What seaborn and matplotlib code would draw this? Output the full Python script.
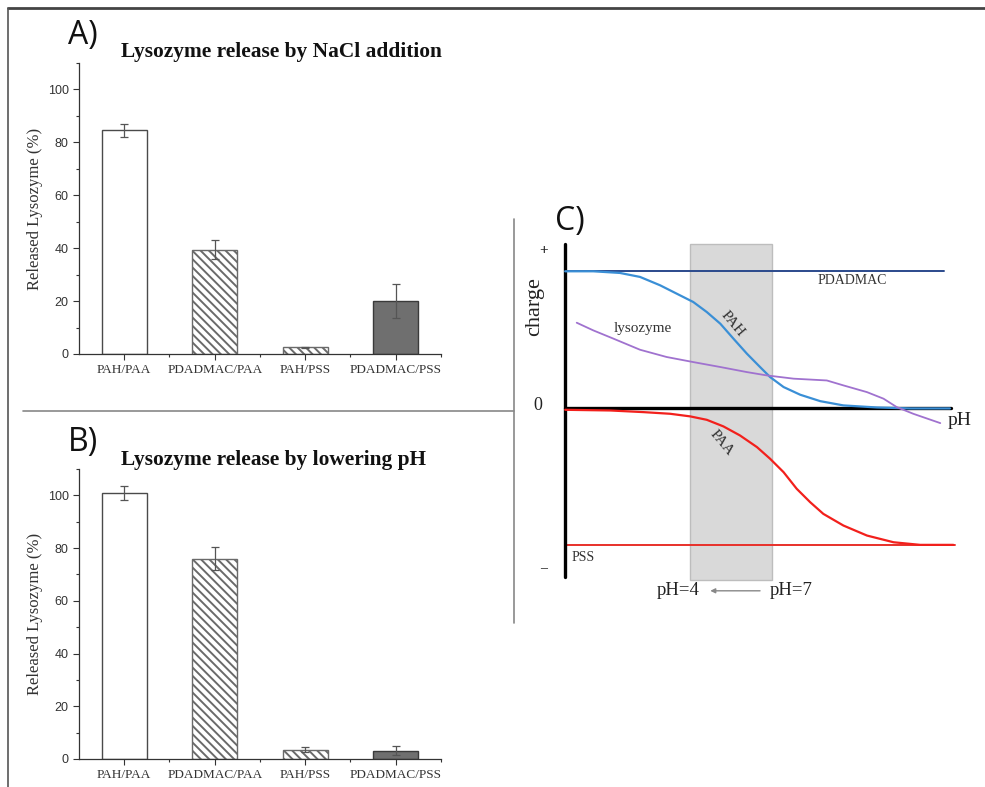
import matplotlib
matplotlib.use("Agg")
import matplotlib.pyplot as plt
from matplotlib.lines import Line2D
from matplotlib.patches import Rectangle
from matplotlib.ticker import MultipleLocator, FixedLocator
import numpy as np
import pandas as pd
import seaborn as sns

# --- data -------------------------------------------------------------
systems = ["PAH/PAA", "PDADMAC/PAA", "PAH/PSS", "PDADMAC/PSS"]

nacl_release = [84.5, 39.4, 2.5, 20.0]
nacl_err = [2.4, 3.5, 0.3, 6.5]

ph_release = [101.0, 76.0, 3.5, 3.2]
ph_err = [2.6, 4.5, 1.0, 1.6]

# schematic charge curves (panel C), x = pH scale (arb.), y = charge (arb.)
pah_x = [0.0, 0.73, 1.42, 1.94, 2.46, 2.89, 3.32, 3.67, 4.02, 4.36, 4.71, 5.05,
         5.31, 5.66, 6.09, 6.61, 7.21, 8.08, 8.94, 9.97]
pah_y = [1.0, 1.0, 0.988, 0.959, 0.898, 0.837, 0.776, 0.703, 0.618, 0.509, 0.399, 0.302,
         0.229, 0.156, 0.10, 0.053, 0.022, 0.007, 0.0, 0.0]

paa_x = [0.0, 1.17, 2.03, 2.72, 3.24, 3.67, 4.10, 4.53, 4.97, 5.31, 5.66, 6.00,
         6.35, 6.69, 7.21, 7.82, 8.51, 9.20, 10.06]
paa_y = [-0.01, -0.015, -0.027, -0.039, -0.058, -0.083, -0.131, -0.197, -0.282, -0.367,
         -0.465, -0.586, -0.684, -0.769, -0.854, -0.927, -0.976, -0.995, -0.995]

lys_x = [0.30, 0.73, 1.25, 1.94, 2.63, 3.32, 4.02, 4.71, 5.22, 5.92, 6.78, 7.21,
         7.82, 8.25, 8.59, 9.02, 9.72]
lys_y = [0.625, 0.569, 0.509, 0.428, 0.375, 0.338, 0.302, 0.265, 0.241, 0.217, 0.204,
         0.168, 0.119, 0.071, 0.01, -0.039, -0.107]

pdadmac_x = [0.0, 9.82]
pdadmac_y = [1.0, 1.0]
pss_x = [0.05, 10.1]
pss_y = [-0.995, -0.995]

shade_ph = [3.24, 5.36]

sns.set_style("white")
plt.rcParams["hatch.linewidth"] = 1.4

SERIF = ["Liberation Serif", "DejaVu Serif"]
SANS = ["Liberation Sans", "DejaVu Sans"]
LETTER = ["Open Sans", "DejaVu Sans"]

fig = plt.figure(figsize=(9.85, 7.87), dpi=100)

face = ["white", "white", "white", "#6f6f6f"]
hatches = [None, "\\\\\\\\", "\\\\\\\\", None]
edges = ["#4a4a4a", "#6a6a6a", "#6a6a6a", "#3a3a3a"]


def bar_panel(rect, values, errs, title, title_xy, letter_xy, letter):
    ax = fig.add_axes(rect)
    df = pd.DataFrame({"System": systems, "Release": values})
    sns.barplot(data=df, x="System", y="Release", order=systems, width=0.5,
                color="white", ax=ax, errorbar=None)
    for p, fc, h, ec in zip(ax.patches, face, hatches, edges):
        p.set_facecolor(fc)
        p.set_edgecolor(ec)
        p.set_linewidth(1.0)
        if h:
            p.set_hatch(h)
    ax.errorbar(range(len(systems)), values, yerr=errs, fmt="none",
                ecolor="#555555", elinewidth=0.9, capsize=3, capthick=0.9)
    ax.set_xlim(-0.5, 3.5)
    ax.set_ylim(0, 110)
    ax.yaxis.set_major_locator(FixedLocator([0, 20, 40, 60, 80, 100]))
    ax.yaxis.set_minor_locator(MultipleLocator(10))
    ax.xaxis.set_minor_locator(FixedLocator([0.5, 1.5, 2.5, 3.5]))
    ax.tick_params(axis="both", which="major", direction="out", length=4,
                   width=0.8, color="#333333")
    ax.tick_params(axis="both", which="minor", direction="out", length=2.5,
                   width=0.8, color="#333333")
    ax.tick_params(axis="x", bottom=True, which="both")
    ax.tick_params(axis="y", left=True, which="both")
    for lab in ax.get_yticklabels():
        lab.set_fontfamily(SANS)
        lab.set_fontsize(9)
        lab.set_color("#333333")
    for lab in ax.get_xticklabels():
        lab.set_fontfamily(SERIF)
        lab.set_fontsize(9.5)
        lab.set_color("#333333")
    ax.set_xlabel("")
    ax.set_ylabel("Released Lysozyme (%)", family=SERIF, fontsize=12,
                  color="#333333", labelpad=3)
    sns.despine(ax=ax)
    for s in ["left", "bottom"]:
        ax.spines[s].set_color("#333333")
        ax.spines[s].set_linewidth(0.9)
    fig.text(title_xy[0], title_xy[1], title, family=SERIF, weight="bold",
             fontsize=15.4, ha="center", va="center", color="#111111")
    fig.text(letter_xy[0], letter_xy[1], letter, family=LETTER, fontsize=23,
             ha="center", va="center", color="#111111")
    return ax


bar_panel([0.0802, 0.5502, 0.3675, 0.3698], nacl_release, nacl_err,
          "Lysozyme release by NaCl addition", (0.286, 0.934), (0.084, 0.955), "A)")
bar_panel([0.0802, 0.0356, 0.3675, 0.3685], ph_release, ph_err,
          "Lysozyme release by lowering pH", (0.278, 0.4155), (0.084, 0.438), "B)")

# --- panel C ----------------------------------------------------------
axc = fig.add_axes([520 / 985, 1 - 610 / 787, 455 / 985, 410 / 787])
axc.set_xlim(-1.17, 10.62)
axc.set_ylim(-1.47, 1.52)
axc.axis("off")

axc.add_patch(Rectangle((shade_ph[0], -1.25), shade_ph[1] - shade_ph[0], 2.45,
                        facecolor="#d9d9d9", edgecolor="#bdbdbd", lw=1.0, zorder=1))

axc.plot(pdadmac_x, pdadmac_y, color="#2b4a8c", lw=1.4, zorder=3)
axc.plot(pss_x, pss_y, color="#e8302a", lw=1.4, zorder=3)
axc.plot([0, 10.0], [0, 0], color="black", lw=2.4, zorder=4)
axc.plot([0, 0], [-1.23, 1.2], color="black", lw=2.4, zorder=5)
axc.plot(pah_x, pah_y, color="#3a8fd6", lw=1.6, zorder=6)
axc.plot(paa_x, paa_y, color="#f2201c", lw=1.6, zorder=6)
axc.plot(lys_x, lys_y, color="#a072cf", lw=1.3, zorder=6)

txt = dict(family=SERIF, color="#333333", ha="center", va="center")
axc.text(7.44, 0.93, "PDADMAC", fontsize=10, **txt)
axc.text(2.0, 0.58, "lysozyme", fontsize=11, **txt)
axc.text(4.35, 0.62, "PAH", fontsize=11, rotation=-50, **txt)
axc.text(4.05, -0.25, "PAA", fontsize=11, rotation=-50, **txt)
axc.text(0.47, -1.09, "PSS", fontsize=10, **txt)

big = dict(family=SERIF, color="#222222", ha="center", va="center")
axc.text(-0.78, 0.74, "charge", fontsize=16, rotation=90, **big)
axc.text(-0.57, 1.15, "+", fontsize=11, weight="bold", **big)
axc.text(-0.70, 0.02, "0", fontsize=13, **big)
axc.text(-0.57, -1.17, "\u2013", fontsize=10, **big)
axc.text(10.23, -0.09, "pH", fontsize=14, **big)
axc.text(2.94, -1.33, "pH=4", fontsize=13.5, **big)
axc.text(5.85, -1.33, "pH=7", fontsize=13.5, **big)
axc.annotate("", xy=(3.76, -1.33), xytext=(5.05, -1.33),
             arrowprops=dict(arrowstyle="-|>", color="#888888", lw=1.0,
                             mutation_scale=7, shrinkA=0, shrinkB=0))
axc.text(0.13, 1.36, "C)", family=LETTER, fontsize=23, color="#111111",
         ha="center", va="center")

# frame and separators
fig.add_artist(Line2D([8 / 985, 1.0], [1 - 8 / 787, 1 - 8 / 787], color="#444444", lw=2.0))
fig.add_artist(Line2D([8 / 985, 8 / 985], [0, 1 - 8 / 787], color="#555555", lw=1.2))
fig.add_artist(Line2D([23 / 985, 514 / 985], [1 - 411 / 787, 1 - 411 / 787], color="#888888", lw=1.2))
fig.add_artist(Line2D([514 / 985, 514 / 985], [1 - 219 / 787, 1 - 623 / 787], color="#888888", lw=1.2))

fig.savefig("out.png", dpi=100)
